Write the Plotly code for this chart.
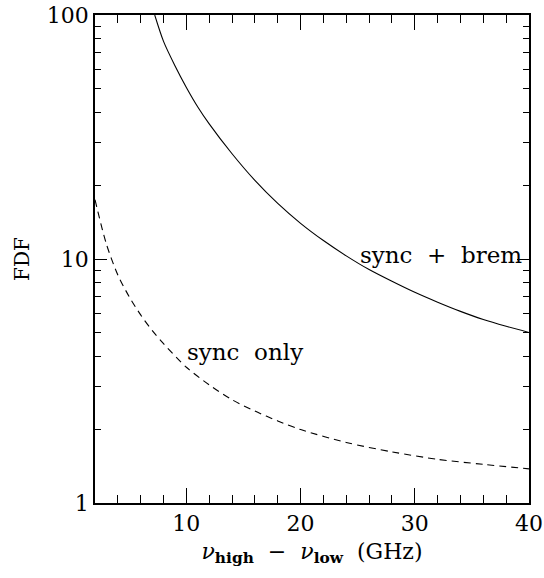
import math
import plotly.graph_objects as go

# Data
x_brem = [7.23, 8, 9, 10, 11, 12, 14, 16, 18, 20, 22, 24, 26, 28, 30, 32, 34, 36, 38, 40]
y_brem = [100, 78, 62, 50.5, 42, 35.8, 27.0, 21.0, 16.9, 14.0, 11.9, 10.3, 9.05, 8.1, 7.3, 6.65, 6.1, 5.65, 5.3, 5.0]

x_sync = [2, 3, 4, 5, 6, 7, 8, 10, 12, 14, 16, 18, 20, 24, 28, 32, 36, 40]
y_sync = [17.5, 11.5, 8.6, 7.0, 5.9, 5.1, 4.5, 3.6, 3.05, 2.65, 2.38, 2.17, 2.0, 1.77, 1.62, 1.51, 1.44, 1.38]

x_ticks = [10, 20, 30, 40]
y_ticks = [1, 10, 100]

FONT = "DejaVu Serif"

fig = go.Figure()
fig.add_trace(go.Scatter(x=x_brem, y=y_brem, mode="lines",
                         line=dict(color="black", width=1.1, shape="spline", smoothing=0.8),
                         showlegend=False))
fig.add_trace(go.Scatter(x=x_sync, y=y_sync, mode="lines",
                         line=dict(color="black", width=1.1, dash="7px,5px", shape="spline", smoothing=0.8),
                         showlegend=False))

fig.add_annotation(x=25, y=math.log10(10.4), xref="x", yref="y",
                   text="sync&nbsp;&nbsp;+&nbsp;&nbsp;brem",
                   showarrow=False, xanchor="left", yanchor="middle",
                   font=dict(family=FONT, size=23, color="black"))
fig.add_annotation(x=9.9, y=math.log10(4.15), xref="x", yref="y",
                   text="sync&nbsp;&nbsp;only",
                   showarrow=False, xanchor="left", yanchor="middle",
                   font=dict(family=FONT, size=23, color="black"))

fig.update_layout(
    width=544, height=578,
    margin=dict(l=95, r=15, t=15, b=75),
    paper_bgcolor="white", plot_bgcolor="white",
    font=dict(family=FONT, size=22, color="black"),
    xaxis=dict(range=[2, 40], tickvals=x_ticks, ticktext=[str(v) for v in x_ticks],
               automargin=False,
               ticks="inside", ticklen=15, tickwidth=1.2, tickcolor="black",
               showline=True, linecolor="black", linewidth=1.5, mirror="allticks",
               showgrid=False, zeroline=False,
               minor=dict(dtick=2, ticks="inside", ticklen=8, tickwidth=1.2,
                          tickcolor="black", showgrid=False),
               title=dict(text="<i>ν</i><sub><b>high</b></sub> &nbsp;−&nbsp; <i>ν</i><sub><b>low</b></sub>&nbsp; (GHz)",
                          font=dict(family=FONT, size=22, color="black"), standoff=8),
               tickfont=dict(family=FONT, size=22, color="black")),
    yaxis=dict(type="log", range=[0, 2], tickvals=y_ticks, ticktext=[str(v) for v in y_ticks],
               automargin=False,
               ticks="inside", ticklen=12, tickwidth=1.2, tickcolor="black",
               showline=True, linecolor="black", linewidth=1.5, mirror="allticks",
               showgrid=False, zeroline=False,
               minor=dict(dtick="D1", ticks="inside", ticklen=6, tickwidth=1.2,
                          tickcolor="black", showgrid=False),
               title=dict(text="FDF", font=dict(family=FONT, size=20, color="black"), standoff=12),
               tickfont=dict(family=FONT, size=22, color="black")),
)

fig.write_html("out.html")
